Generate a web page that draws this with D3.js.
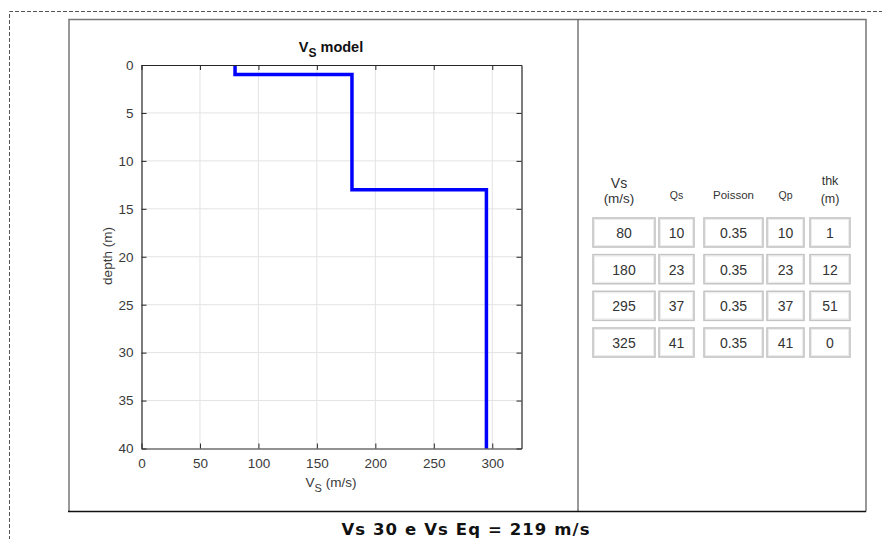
<!DOCTYPE html>
<html lang="en">
<head>
<meta charset="UTF-8">
<title>Vs model</title>
<script src="https://d3js.org/d3.v7.min.js"></script>
<style>
  body { margin: 0; background: #fff; }
  svg { display: block; }
</style>
</head>
<body>
<script>
    // layer model
    const vsValues = [80, 180, 295, 325];
    const qsValues = [10, 23, 37, 41];
    const poissonValues = ["0.35", "0.35", "0.35", "0.35"];
    const qpValues = [10, 23, 37, 41];
    const thkValues = [1, 12, 51, 0];
    const xTicks = [0, 50, 100, 150, 200, 250, 300];
    const yTicks = [0, 5, 10, 15, 20, 25, 30, 35, 40];
    const vsEq = 219;

    const width = 882, height = 539;
    const svg = d3.select("body").append("svg")
        .attr("width", width).attr("height", height);

    // outer dashed frame
    svg.append("path")
        .attr("d", "M9.5,540 V11.5 H882")
        .attr("fill", "none").attr("stroke", "#555")
        .attr("stroke-width", 1).attr("stroke-dasharray", "4,2");

    // panel frame
    svg.append("path").attr("d", "M69,511.5 V19.5 H866 V511.5")
        .attr("fill", "none").attr("stroke", "#777").attr("stroke-width", 1.5);
    svg.append("line").attr("x1", 578).attr("x2", 578).attr("y1", 19.5).attr("y2", 511.5)
        .attr("stroke", "#555").attr("stroke-width", 1.2);
    svg.append("line").attr("x1", 68).attr("x2", 866).attr("y1", 511.5).attr("y2", 511.5)
        .attr("stroke", "#111").attr("stroke-width", 1.5);

    // ---- Vs plot ----
    const pLeft = 141.5, pRight = 521.5, pTop = 65, pBottom = 448.5;
    const x = d3.scaleLinear().domain([0, 325]).range([pLeft, pRight]);
    const y = d3.scaleLinear().domain([0, 40]).range([pTop, pBottom]);

    const g = svg.append("g");
    g.append("rect").attr("x", pLeft).attr("y", pTop)
        .attr("width", pRight - pLeft).attr("height", pBottom - pTop).attr("fill", "#fff");

    // grid
    g.selectAll(".gx").data(xTicks.slice(1)).enter().append("line")
        .attr("x1", d => x(d)).attr("x2", d => x(d)).attr("y1", pTop).attr("y2", pBottom)
        .attr("stroke", "#e3e3e3").attr("stroke-width", 1);
    g.selectAll(".gy").data(yTicks.slice(1, -1)).enter().append("line")
        .attr("y1", d => y(d)).attr("y2", d => y(d)).attr("x1", pLeft).attr("x2", pRight)
        .attr("stroke", "#e3e3e3").attr("stroke-width", 1);

    // step profile
    const pts = [];
    let depth = 0;
    vsValues.forEach((v, i) => {
        const thk = thkValues[i] > 0 ? thkValues[i] : 100;
        pts.push([v, depth]);
        depth += thk;
        pts.push([v, depth]);
    });
    svg.append("clipPath").attr("id", "clip").append("rect")
        .attr("x", pLeft).attr("y", pTop).attr("width", pRight - pLeft).attr("height", pBottom - pTop);
    g.append("path").datum(pts)
        .attr("clip-path", "url(#clip)")
        .attr("d", d3.line().x(d => x(d[0])).y(d => y(d[1])))
        .attr("fill", "none").attr("stroke", "#0000ff")
        .attr("stroke-width", 3.5).attr("stroke-linejoin", "miter");

    // axes with inward ticks (box on)
    const tickFont = "13.5px 'Liberation Sans', Arial, sans-serif";
    g.append("g").attr("transform", `translate(0,${pBottom})`)
        .call(d3.axisBottom(x).tickValues(xTicks).tickSizeInner(-5).tickSizeOuter(0).tickPadding(10));
    g.append("g").attr("transform", `translate(0,${pTop})`)
        .call(d3.axisTop(x).tickValues(xTicks).tickSizeInner(-5).tickSizeOuter(0).tickFormat(""));
    g.append("g").attr("transform", `translate(${pLeft},0)`)
        .call(d3.axisLeft(y).tickValues(yTicks).tickSizeInner(-5).tickSizeOuter(0).tickPadding(8));
    g.append("g").attr("transform", `translate(${pRight},0)`)
        .call(d3.axisRight(y).tickValues(yTicks).tickSizeInner(-5).tickSizeOuter(0).tickFormat(""));
    g.selectAll(".domain").attr("stroke", "#262626").attr("stroke-width", 1.2);
    g.selectAll(".tick line").attr("stroke", "#262626");
    g.selectAll(".tick text").style("font", tickFont).attr("fill", "#3a3a3a");

    // title and labels
    const title = svg.append("text").attr("x", 331).attr("y", 52)
        .attr("text-anchor", "middle")
        .style("font", "bold 14.5px 'Liberation Sans', Arial, sans-serif").attr("fill", "#111");
    title.append("tspan").text("V");
    title.append("tspan").attr("dy", 5).style("font-size", "12px").text("S");
    title.append("tspan").attr("dy", -5).text(" model");

    const xl = svg.append("text").attr("x", 331).attr("y", 487)
        .attr("text-anchor", "middle")
        .style("font", "13.5px 'Liberation Sans', Arial, sans-serif").attr("fill", "#3a3a3a");
    xl.append("tspan").text("V");
    xl.append("tspan").attr("dy", 5).style("font-size", "11px").text("S");
    xl.append("tspan").attr("dy", -5).text(" (m/s)");

    svg.append("text").attr("transform", "translate(112,256) rotate(-90)")
        .attr("text-anchor", "middle")
        .style("font", "13.5px 'Liberation Sans', Arial, sans-serif").attr("fill", "#3a3a3a")
        .text("depth (m)");

    // ---- layer table ----
    const columns = [
        { key: "vs", values: vsValues, x0: 593, w: 62, head: ["Vs", "(m/s)"] },
        { key: "qs", values: qsValues, x0: 659, w: 35, head: ["Qs"] },
        { key: "poisson", values: poissonValues, x0: 704, w: 59, head: ["Poisson"] },
        { key: "qp", values: qpValues, x0: 767, w: 37, head: ["Qp"] },
        { key: "thk", values: thkValues, x0: 810, w: 40, head: ["thk", "(m)"] }
    ];
    const rowY = d3.scaleLinear().domain([0, 3]).range([218, 328]);
    const tf = "'Liberation Sans', Arial, sans-serif";

    columns.forEach(col => {
        const cx = col.x0 + col.w / 2;
        if (col.head.length === 2) {
            const big = col.key === "vs";
            svg.append("text").attr("x", cx - (big ? 5 : 0)).attr("y", big ? 188 : 185).attr("text-anchor", "middle")
                .style("font", `${big ? 14 : 12.5}px ${tf}`).attr("fill", "#333").text(col.head[0]);
            svg.append("text").attr("x", cx - (big ? 5 : 0)).attr("y", 203).attr("text-anchor", "middle")
                .style("font", `${big ? 13.5 : 12.5}px ${tf}`).attr("fill", "#333").text(col.head[1]);
        } else {
            svg.append("text").attr("x", cx).attr("y", 199).attr("text-anchor", "middle")
                .style("font", `${col.key === "poisson" ? 11.5 : 10.5}px ${tf}`).attr("fill", "#333").text(col.head[0]);
        }
        const cells = svg.selectAll(null).data(col.values).enter().append("g")
            .attr("transform", (d, i) => `translate(${col.x0},${rowY(i)})`);
        cells.append("rect").attr("width", col.w).attr("height", 29)
            .attr("fill", "#fff").attr("stroke", "#c4c4c4").attr("stroke-width", 1.6);
        cells.append("rect").attr("x", 1.5).attr("y", 1.5).attr("width", col.w - 3).attr("height", 26)
            .attr("fill", "none").attr("stroke", "#ececec").attr("stroke-width", 1);
        cells.append("text").attr("x", col.w / 2).attr("y", 20).attr("text-anchor", "middle")
            .style("font", `14px ${tf}`).attr("fill", "#333").text(d => d);
    });

    // summary line
    svg.append("text").attr("x", 466).attr("y", 535).attr("text-anchor", "middle")
        .style("font", "bold 16.5px 'DejaVu Sans', Verdana, sans-serif")
        .style("letter-spacing", "1.1px").attr("fill", "#111")
        .text(`Vs 30 e Vs Eq = ${vsEq} m/s`);
</script>
</body>
</html>
